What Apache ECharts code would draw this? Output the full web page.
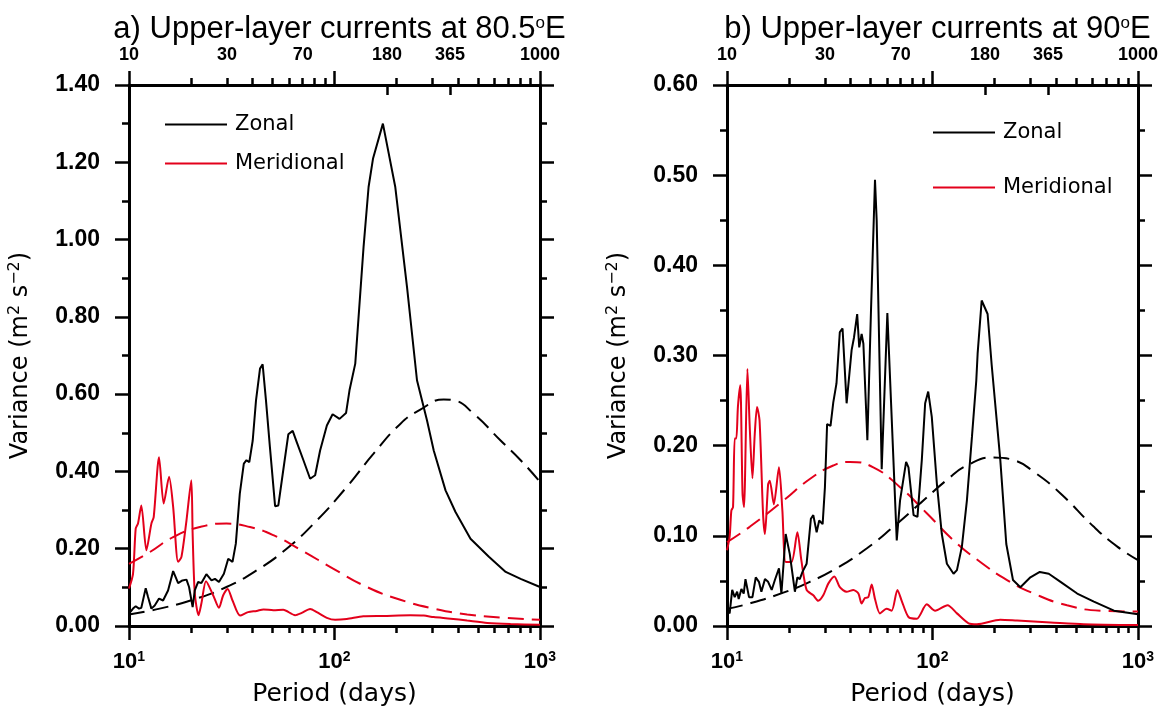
<!DOCTYPE html>
<html>
<head>
<meta charset="utf-8">
<title>Upper-layer current variance spectra</title>
<script src="https://cdn.jsdelivr.net/npm/echarts@6/dist/echarts.min.js"></script>
<style>
  html, body { margin: 0; padding: 0; background: #ffffff; }
  #chart { width: 1164px; height: 708px; }
</style>
</head>
<body>
<div id="chart"></div>
<script>
// ---- Period axis ticks (days) ----
const topTickLabels = [10, 30, 70, 180, 365, 1000];
const topInnerTicks = [180, 365];
const majorPeriods = [10, 100, 1000];
const minorPeriods = [20, 30, 40, 50, 60, 70, 80, 90, 200, 300, 400, 500, 600, 700, 800, 900];

// ---- Panel a: 80.5°E  ([period (days), variance (m^2 s^-2)]) ----
const zonalA = [
  [10, 0.032], [10.46, 0.045], [10.78, 0.051], [11.19, 0.045], [11.48, 0.047], [12.06, 0.098],
  [12.38, 0.075], [12.85, 0.045], [13.34, 0.053], [14.0, 0.071], [14.65, 0.066], [15.49, 0.092],
  [16.4, 0.142], [17.34, 0.111], [18.2, 0.118], [19.04, 0.12], [19.6, 0.101], [20.4, 0.049],
  [20.9, 0.092], [21.7, 0.114], [22.5, 0.111], [23.8, 0.134], [25.2, 0.118], [26.2, 0.122],
  [27.4, 0.114], [28.96, 0.135], [30.4, 0.174], [31.9, 0.166], [33.1, 0.213], [34.6, 0.342],
  [36.2, 0.42], [37.3, 0.429], [38.5, 0.424], [40.0, 0.48], [41.5, 0.584], [43.4, 0.666],
  [44.7, 0.677], [46.4, 0.584], [48.5, 0.463], [51.4, 0.31], [53.3, 0.312], [56.0, 0.394],
  [59.6, 0.496], [62.6, 0.505], [65.5, 0.476], [70.6, 0.429], [76.1, 0.381], [80.5, 0.39],
  [85.1, 0.454], [91.8, 0.519], [97.9, 0.548], [105.8, 0.536], [113.8, 0.551], [118.3, 0.61],
  [126.2, 0.679], [138.5, 0.981], [146.5, 1.136], [153.9, 1.209], [172, 1.30], [197.6, 1.136],
  [225.4, 0.877], [252, 0.636], [282, 0.532], [304, 0.454], [347, 0.351], [388, 0.295],
  [459, 0.226], [564, 0.179], [681, 0.14], [805, 0.122], [1000, 0.101]
];
const meridionalA = [
  [10, 0.097], [10.46, 0.135], [10.78, 0.252], [11.06, 0.265], [11.48, 0.312], [12.15, 0.196],
  [12.85, 0.265], [13.19, 0.282], [14.0, 0.437], [14.75, 0.317], [15.67, 0.386], [16.4, 0.308],
  [17.34, 0.166], [18.0, 0.179], [19.04, 0.273], [20.1, 0.377], [20.4, 0.239], [20.9, 0.084],
  [21.8, 0.028], [22.5, 0.058], [23.7, 0.116], [25.7, 0.079], [27.4, 0.047], [28.7, 0.079],
  [30.2, 0.096], [31.9, 0.066], [34.7, 0.027], [38.0, 0.036], [41.8, 0.039], [45.1, 0.043],
  [50.4, 0.041], [56.3, 0.042], [64.3, 0.028], [69.3, 0.034], [76.1, 0.044], [82.0, 0.036],
  [91.8, 0.021], [100.7, 0.016], [114.8, 0.018], [138, 0.025], [173, 0.026], [234, 0.028],
  [272, 0.027], [304, 0.023], [367, 0.019], [442, 0.014], [554, 0.008], [719, 0.005], [1000, 0.003]
];
const zonalNoiseA = [
  [10, 0.030], [14.1, 0.045], [20.5, 0.068], [29.8, 0.101], [41.8, 0.144], [58.5, 0.2],
  [82.0, 0.273], [114.8, 0.36], [154.9, 0.446], [209, 0.523], [261.6, 0.56], [340, 0.586],
  [380, 0.584], [476, 0.549], [643, 0.48], [805, 0.429], [1000, 0.373]
];
const meridionalNoiseA = [
  [10, 0.161], [12.6, 0.191], [16.4, 0.23], [22.1, 0.256], [29.8, 0.265], [38.8, 0.256],
  [50.4, 0.235], [68.0, 0.198], [98.9, 0.148], [143.8, 0.101], [209, 0.068], [304, 0.045],
  [442, 0.030], [643, 0.022], [1000, 0.016]
];

// ---- Panel b: 90°E ----
const zonalB = [
  [10, 0.019], [10.3, 0.014], [10.6, 0.040], [10.9, 0.032], [11.2, 0.038], [11.4, 0.030],
  [11.75, 0.041], [12.06, 0.036], [12.3, 0.052], [12.8, 0.032], [13.3, 0.032], [13.8, 0.054],
  [14.3, 0.049], [14.7, 0.038], [15.3, 0.052], [15.85, 0.049], [16.5, 0.040], [17.1, 0.051],
  [17.9, 0.064], [18.4, 0.036], [18.8, 0.036], [19.3, 0.102], [20.2, 0.080], [21.4, 0.038],
  [22.0, 0.054], [22.6, 0.052], [23.3, 0.060], [24.4, 0.069], [25.6, 0.119], [26.3, 0.123],
  [27.3, 0.104], [28.1, 0.117], [29.2, 0.113], [29.96, 0.154], [30.7, 0.224], [31.9, 0.222],
  [32.9, 0.248], [34.1, 0.269], [35.4, 0.326], [36.5, 0.330], [38.2, 0.247], [40.4, 0.306],
  [41.5, 0.320], [43.0, 0.346], [44.0, 0.309], [45.2, 0.324], [46.1, 0.313], [48.2, 0.206],
  [50.2, 0.35], [52.5, 0.495], [53.5, 0.45], [56.6, 0.174], [60.3, 0.347], [67.0, 0.095],
  [69.5, 0.139], [74.4, 0.182], [76.4, 0.176], [80.9, 0.123], [84.5, 0.121], [88.7, 0.184],
  [92.1, 0.247], [95.3, 0.260], [99.2, 0.232], [105, 0.158], [111, 0.102], [117.5, 0.069],
  [126.6, 0.058], [131.5, 0.062], [139, 0.088], [147, 0.139], [155.6, 0.21], [163.3, 0.272],
  [165.8, 0.302], [173.5, 0.361], [185.4, 0.346], [194, 0.29], [213.8, 0.184], [228.6, 0.091],
  [246.4, 0.051], [267.7, 0.043], [299.5, 0.054], [332.7, 0.060], [368, 0.058], [419.8, 0.049],
  [506, 0.036], [610, 0.027], [764, 0.017], [1000, 0.013]
];
const meridionalB = [
  [10, 0.084], [10.3, 0.099], [10.5, 0.128], [10.7, 0.132], [10.9, 0.208], [11.1, 0.208],
  [11.3, 0.243], [11.6, 0.267], [11.9, 0.147], [12.1, 0.132], [12.57, 0.285], [12.9, 0.221],
  [13.3, 0.164], [13.65, 0.213], [14.0, 0.243], [14.4, 0.228], [14.98, 0.124], [15.3, 0.102],
  [15.85, 0.157], [16.15, 0.161], [16.9, 0.135], [17.9, 0.176], [18.6, 0.128], [19.3, 0.071],
  [20.6, 0.071], [22.0, 0.104], [23.0, 0.073], [24.4, 0.040], [26.3, 0.034], [27.8, 0.028],
  [29.4, 0.034], [31.1, 0.047], [33.3, 0.055], [35.4, 0.043], [38.2, 0.038], [41.2, 0.040],
  [43.6, 0.036], [45.2, 0.025], [46.9, 0.031], [48.7, 0.032], [50.6, 0.046], [52.5, 0.030],
  [55.5, 0.014], [59.8, 0.019], [63.3, 0.017], [67.5, 0.040], [70.8, 0.028], [76.4, 0.010],
  [83.9, 0.008], [93.8, 0.024], [103, 0.017], [118.3, 0.023], [131.5, 0.014], [149.8, 0.003],
  [164.5, 0.002], [213.8, 0.007], [257.8, 0.006], [375, 0.004], [545, 0.002], [1000, 0.001]
];
const zonalNoiseB = [
  [10, 0.019], [12.9, 0.025], [18.8, 0.037], [25.3, 0.049], [34.1, 0.064], [47.8, 0.086],
  [64.5, 0.110], [87.1, 0.136], [117.5, 0.162], [147, 0.178], [198.5, 0.187], [248, 0.184],
  [311, 0.171], [419.8, 0.147], [610, 0.110], [793, 0.088], [1000, 0.073]
];
const meridionalNoiseB = [
  [10, 0.093], [12.9, 0.110], [18.8, 0.139], [25.3, 0.163], [32.9, 0.178], [39.6, 0.182],
  [51.5, 0.176], [69.5, 0.154], [93.8, 0.125], [126.6, 0.095], [170.8, 0.071], [230.5, 0.051],
  [311, 0.036], [451.6, 0.023], [657.8, 0.017], [1000, 0.016]
];

// ---- Styling ----
const BLACK = '#000000';
const RED = '#e3001b';
const TICK_FONT = 'Liberation Sans';
const TEXT_FONT = 'DejaVu Sans';
const AXIS_W = 3;

const panels = [
  {
    title: 'a) Upper-layer currents at 80.5{o|o}E',
    left: 129, yMax: 1.4, yStep: 0.2,
    zonal: zonalA, meridional: meridionalA, zonalNoise: zonalNoiseA, meridionalNoise: meridionalNoiseA,
    legend: { left: 165, top: 114, gap: 18 }
  },
  {
    title: 'b) Upper-layer currents at 90{o|o}E',
    left: 727, yMax: 0.6, yStep: 0.1,
    zonal: zonalB, meridional: meridionalB, zonalNoise: zonalNoiseB, meridionalNoise: meridionalNoiseB,
    legend: { left: 933, top: 122, gap: 34 }
  }
];
const PLOT_W = 411, PLOT_TOP = 85, PLOT_H = 541;

function periodAxis(gridIndex, position, line, tick, label) {
  return {
    type: 'log', logBase: 10, min: 10, max: 1000,
    gridIndex: gridIndex, position: position,
    axisLine: line ? { show: true, onZero: false, lineStyle: { color: BLACK, width: AXIS_W } }
                   : { show: false, onZero: false },
    axisTick: tick ? Object.assign({ show: true, lineStyle: { color: BLACK, width: 2.5 } }, tick) : { show: false },
    axisLabel: label ? label : { show: false },
    splitLine: { show: false },
    minorTick: { show: false },
    minorSplitLine: { show: false }
  };
}

const grids = [], xAxes = [], yAxes = [], series = [], titles = [], legends = [];

panels.forEach(function (p, i) {
  grids.push({
    left: p.left, top: PLOT_TOP, width: PLOT_W, height: PLOT_H,
    containLabel: false, outerBoundsMode: 'none'
  });

  // bottom: decades labelled as powers of ten, with the axis title
  const bottom = periodAxis(i, 'bottom', true,
    { length: 14, inside: false, customValues: majorPeriods },
    {
      show: true, margin: 24, customValues: majorPeriods,
      formatter: function (v) { return '{b|10}{s|' + Math.round(Math.log10(v)) + '}'; },
      rich: {
        b: { fontFamily: TICK_FONT, fontWeight: 'bold', fontSize: 22, color: BLACK },
        s: { fontFamily: TICK_FONT, fontWeight: 'bold', fontSize: 14, color: BLACK, padding: [0, 0, 10, 0] }
      }
    });
  bottom.name = 'Period (days)';
  bottom.nameLocation = 'middle';
  bottom.nameGap = 56;
  bottom.nameTextStyle = { fontFamily: TEXT_FONT, fontSize: 25, color: BLACK };
  xAxes.push(bottom);
  // bottom: minor ticks within each decade
  xAxes.push(periodAxis(i, 'bottom', false, { length: 7, inside: false, customValues: minorPeriods }, null));
  // top: period labels in days
  xAxes.push(periodAxis(i, 'top', true,
    { length: 14, inside: false, customValues: majorPeriods },
    {
      show: true, margin: 21, customValues: topTickLabels,
      fontFamily: TICK_FONT, fontWeight: 'bold', fontSize: 18, color: BLACK,
      formatter: function (v) { return String(Math.round(v)); }
    }));
  // top: minor ticks
  xAxes.push(periodAxis(i, 'top', false, { length: 7, inside: false, customValues: minorPeriods }, null));
  // top: semi-annual and annual marks pointing into the plot
  xAxes.push(periodAxis(i, 'top', false, { length: 10, inside: true, customValues: topInnerTicks }, null));

  const yBase = {
    type: 'value', min: 0, max: p.yMax, interval: p.yStep, gridIndex: i,
    axisLine: { show: true, onZero: false, lineStyle: { color: BLACK, width: AXIS_W } },
    axisTick: { show: true, inside: false, length: 14, lineStyle: { color: BLACK, width: 2.5 } },
    minorTick: { show: true, splitNumber: 2, length: 7, lineStyle: { color: BLACK, width: 2.5 } },
    splitLine: { show: false },
    minorSplitLine: { show: false }
  };
  yAxes.push(Object.assign({}, yBase, {
    position: 'left',
    axisLabel: {
      show: true, margin: 29, fontFamily: TICK_FONT, fontWeight: 'bold', fontSize: 23, color: BLACK,
      formatter: function (v) { return v.toFixed(2); }
    },
    name: 'Variance (m{s|2} s{s|\u22122})',
    nameLocation: 'middle', nameGap: 95, nameRotate: 90,
    nameTextStyle: {
      fontFamily: TEXT_FONT, fontSize: 24, color: BLACK,
      rich: {
        s: { fontFamily: TEXT_FONT, fontSize: 16, color: BLACK, padding: [0, 0, 11, 0] }
      }
    }
  }));
  yAxes.push(Object.assign({}, yBase, { position: 'right', axisLabel: { show: false } }));

  const xIdx = i * 5, yIdx = i * 2;
  const lineSeries = function (name, data, color, dashed, smooth, z) {
    return {
      type: 'line', name: name, data: data, xAxisIndex: xIdx, yAxisIndex: yIdx,
      showSymbol: false, symbol: 'none', smooth: smooth, clip: true, z: z,
      lineStyle: { color: color, width: 2, type: dashed ? [16, 8] : 'solid' },
      itemStyle: { color: color },
      emphasis: { disabled: true }
    };
  };
  series.push(lineSeries('Zonal red noise', p.zonalNoise, BLACK, true, 0.5, 2));
  series.push(lineSeries('Meridional red noise', p.meridionalNoise, RED, true, 0.5, 2));
  series.push(lineSeries('Meridional', p.meridional, RED, false, 0.25, 3));
  series.push(lineSeries('Zonal', p.zonal, BLACK, false, false, 4));

  titles.push({
    text: p.title, left: p.left + PLOT_W / 2, top: 9, textAlign: 'center',
    textStyle: {
      fontFamily: TICK_FONT, fontWeight: 'normal', fontSize: 31, color: BLACK,
      rich: { o: { fontFamily: TICK_FONT, fontSize: 17, color: BLACK, padding: [0, 0, 13, 0] } }
    }
  });

  legends.push({
    data: [{ name: 'Zonal', icon: 'rect' }, { name: 'Meridional', icon: 'rect' }],
    orient: 'vertical', left: p.legend.left, top: p.legend.top, padding: 0,
    itemWidth: 62, itemHeight: 2, itemGap: p.legend.gap,
    selectedMode: false,
    textStyle: { fontFamily: TEXT_FONT, fontSize: 21, color: BLACK, lineHeight: 20, padding: [0, 0, 0, 3] }
  });
});

const chart = echarts.init(document.getElementById('chart'), null, { renderer: 'canvas' });
chart.setOption({
  animation: false,
  backgroundColor: '#ffffff',
  title: titles,
  legend: legends,
  grid: grids,
  xAxis: xAxes,
  yAxis: yAxes,
  series: series
});
</script>
</body>
</html>
